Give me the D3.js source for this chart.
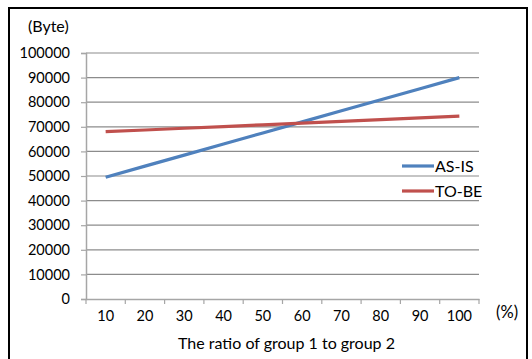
<!DOCTYPE html>
<html><head><meta charset="utf-8">
<script src="https://cdn.jsdelivr.net/npm/d3@7"></script>
<style>
html,body{margin:0;padding:0;background:#fff;}
svg{display:block;font-family:Lato,"Open Sans",sans-serif;}
</style></head>
<body>
<svg id="c" width="532" height="359"></svg>
<script>
const categories = ["10","20","30","40","50","60","70","80","90","100"];
const asIs = [49500,54000,58500,63000,67500,72000,76500,81000,85500,90000];
const toBe = [68000,68700,69400,70100,70800,71500,72200,72900,73600,74300];
const yTicks = [0,10000,20000,30000,40000,50000,60000,70000,80000,90000,100000];
const seriesNames = ["AS-IS","TO-BE"];
const seriesColors = ["#4F81BD","#C0504D"];

const svg = d3.select("#c");
const L = 86, R = 479, T = 53, B = 299;

svg.append("rect").attr("x",9).attr("y",8).attr("width",518).attr("height",360)
  .attr("fill","#fff").attr("stroke","#000").attr("stroke-width",2);

const x = d3.scaleBand().domain(categories).range([L,R]).padding(0);
const y = d3.scaleLinear().domain([0,100000]).range([B,T]);

// gridlines
svg.append("g").selectAll("line").data(yTicks.filter(d=>d>0)).join("line")
  .attr("x1",L).attr("x2",R).attr("y1",d=>y(d)).attr("y2",d=>y(d))
  .attr("stroke","#8c8c8c").attr("stroke-width",1.2);

// y axis
const yAxis = d3.axisLeft(y).tickValues(yTicks).tickSize(5).tickPadding(11).tickFormat(d3.format("d"));
const gy = svg.append("g").attr("transform",`translate(${L},0)`).call(yAxis);
gy.select(".domain").attr("stroke","#a6a6a6").attr("stroke-width",1.5);
gy.selectAll(".tick line").attr("stroke","#a6a6a6").attr("stroke-width",1.2);
gy.selectAll("text").attr("font-size",14.5).attr("fill","#000").attr("font-family","Lato");

// x axis
const xAxis = d3.axisBottom(x).tickSize(0).tickPadding(12);
const gx = svg.append("g").attr("transform",`translate(0,${B})`).call(xAxis);
gx.select(".domain").attr("stroke","#a6a6a6").attr("stroke-width",1.5);
gx.selectAll("text").attr("font-size",14.5).attr("fill","#000").attr("font-family","Lato");
// category boundary ticks
const bounds = categories.map(c=>x(c)).concat([x(categories[categories.length-1])+x.bandwidth()]);
svg.append("g").selectAll("line").data(bounds).join("line")
  .attr("x1",d=>d).attr("x2",d=>d).attr("y1",B).attr("y2",B+5)
  .attr("stroke","#a6a6a6").attr("stroke-width",1.2);

// lines
const line = d3.line().x((d,i)=>x(categories[i])+x.bandwidth()/2).y(d=>y(d));
[asIs,toBe].forEach((s,i)=>{
  svg.append("path").datum(s).attr("d",line).attr("fill","none")
    .attr("stroke",seriesColors[i]).attr("stroke-width",3.2).attr("stroke-linecap","butt");
});

// legend
const legY = [166,191];
seriesNames.forEach((n,i)=>{
  svg.append("line").attr("x1",402).attr("x2",434).attr("y1",legY[i]).attr("y2",legY[i])
    .attr("stroke",seriesColors[i]).attr("stroke-width",3.2);
  svg.append("text").attr("x",435).attr("y",legY[i]).attr("dy","0.35em")
    .attr("font-size",16).text(n);
});

// labels
svg.append("text").attr("x",28).attr("y",26).attr("dy","0.35em").attr("font-size",16).text("(Byte)");
svg.append("text").attr("x",496).attr("y",312).attr("dy","0.35em").attr("font-size",16.5).text("(%)");
svg.append("text").attr("x",(L+R)/2+4).attr("y",343).attr("dy","0.35em").attr("text-anchor","middle")
  .attr("font-size",16).text("The ratio of group 1 to group 2");
</script>
</body></html>
